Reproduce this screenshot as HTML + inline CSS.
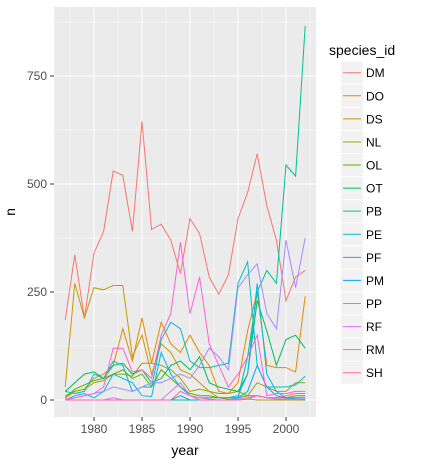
<!DOCTYPE html>
<html><head><meta charset="utf-8"><style>
body{margin:0;background:#fff;font-family:"Liberation Sans",sans-serif}
</style></head><body>
<svg id="chart" width="425" height="465" xmlns="http://www.w3.org/2000/svg" font-family="Liberation Sans, sans-serif">
<rect width="425" height="465" fill="#fff"/>
<rect x="54" y="7" width="262" height="410" fill="#ebebeb"/>
<g id="grid"></g><g id="lines"></g><g id="axes"></g><g id="legend"></g>
<text x="185" y="455" font-size="14" text-anchor="middle" fill="#000">year</text>
<text transform="translate(15,212) rotate(-90)" font-size="14" text-anchor="middle" fill="#000">n</text>
</svg>
<script>
const years=[1977,1978,1979,1980,1981,1982,1983,1984,1985,1986,1987,1988,1989,1990,1991,1992,1993,1994,1995,1996,1997,1998,1999,2000,2001,2002];
const species=["DM","DO","DS","NL","OL","OT","PB","PE","PF","PM","PP","RF","RM","SH"];
const colors=["#F8766D","#E38900","#C49A00","#99A800","#53B400","#00BC56","#00C094","#00BFC4","#00B6EB","#06A4FF","#A58AFF","#DF70F8","#FB61D7","#FF66A8"];
const DM=[185,336,190,340,390,530,520,390,645,395,407,370,293,420,385,285,245,290,420,480,570,450,370,230,285,300];
const DO=[10,20,25,50,60,80,165,90,190,85,180,130,110,150,110,80,20,15,40,160,250,80,75,75,65,240];
const DS=[30,270,190,260,255,265,265,100,150,60,130,110,70,60,40,20,5,2,0,2,0,0,0,0,0,0];
const NL=[5,20,25,40,45,60,60,55,85,85,80,70,50,20,25,20,15,15,20,10,40,30,20,20,40,40];
const OL=[5,25,35,45,50,60,70,50,60,30,70,50,30,15,10,10,5,5,5,10,10,5,5,5,10,10];
const OT=[20,40,60,65,50,80,85,60,70,40,50,80,90,70,100,40,30,25,20,60,230,160,80,140,150,120];
const PB=[0,0,0,0,0,0,0,0,0,0,0,0,0,0,0,0,0,0,5,100,250,300,270,544,518,866];
const PE=[20,15,20,60,50,90,80,20,30,30,140,180,165,90,75,75,80,85,270,320,80,30,30,30,35,55];
const PF=[0,10,15,5,20,60,50,40,10,8,110,60,30,10,5,5,5,5,10,60,270,60,20,5,3,0];
const PM=[0,0,0,0,0,0,0,0,0,0,0,0,10,0,0,0,0,0,5,20,80,30,10,5,5,5];
const PP=[0,5,10,15,20,30,25,20,30,40,40,50,60,50,80,120,100,70,260,290,315,200,165,370,260,375];
const RF=[0,0,0,0,0,5,0,0,0,0,0,20,40,10,5,2,0,0,2,5,10,5,2,2,2,2];
const RM=[2,5,10,15,30,120,120,65,70,50,150,200,365,200,285,130,80,30,60,100,150,10,15,15,20,20];
const SH=[0,0,0,0,0,0,0,0,0,0,0,0,20,10,0,0,0,0,0,2,10,5,5,10,15,15];
const series=[DM,DO,DS,NL,OL,OT,PB,PE,PF,PM,PP,RF,RM,SH];
const yTicks=[0,250,500,750];
const xTicks=[1980,1985,1990,1995,2000];
const NS="http://www.w3.org/2000/svg";
const X=v=>94+(v-1980)*9.6;
const Y=v=>400-v*0.432;
function mk(tag,attrs,parent){const e=document.createElementNS(NS,tag);for(const k in attrs)e.setAttribute(k,attrs[k]);parent.appendChild(e);return e;}
const grid=document.getElementById('grid'),lines=document.getElementById('lines'),axes=document.getElementById('axes'),legend=document.getElementById('legend');
// minor grid
for(let i=0;i<yTicks.length+1;i++){const v=(i-0.5)*250;const y=Y(v);if(y>7&&y<417){const l=mk('line',{x1:54,x2:316,y1:y,y2:y,stroke:'#fff','stroke-width':0.5},grid);

}}
for(let i=0;i<xTicks.length+1;i++){const v=1977.5+i*5;const x=X(v);const l=mk('line',{x1:x,x2:x,y1:7,y2:417,stroke:'#fff','stroke-width':0.5},grid);

}
yTicks.forEach(v=>{const y=Y(v);const l=mk('line',{x1:54,x2:316,y1:y,y2:y,stroke:'#fff','stroke-width':1},grid);


mk('line',{x1:50,x2:54,y1:y,y2:y,stroke:'#333'},axes);
const t=mk('text',{x:47,y:y+4,'font-size':12,'text-anchor':'end',fill:'#4d4d4d'},axes);t.textContent=v;

});
xTicks.forEach(v=>{const x=X(v);const l=mk('line',{x1:x,x2:x,y1:7,y2:417,stroke:'#fff','stroke-width':1},grid);


mk('line',{x1:x,x2:x,y1:417,y2:421,stroke:'#333'},axes);
const t=mk('text',{x:x,y:433,'font-size':12,'text-anchor':'middle',fill:'#4d4d4d'},axes);t.textContent=v;

});
series.forEach((s,i)=>{const d=s.map((v,j)=>(j?'L':'M')+X(years[j]).toFixed(1)+','+Y(v).toFixed(1)).join('');
const p=mk('path',{d:d,fill:'none',stroke:colors[i],'stroke-width':1},lines);

});
const lt=mk('text',{x:329,y:55,'font-size':14,fill:'#000'},legend);lt.textContent='species_id';


species.forEach((sp,i)=>{const cy=72.7+i*23.08;
const g=mk('g',{},legend);


mk('rect',{x:341,y:cy-11,width:22,height:22,fill:'#f2f2f2'},g);
mk('line',{x1:343,x2:361,y1:cy,y2:cy,stroke:colors[i],'stroke-width':1},g);
const t=mk('text',{x:366,y:cy+4.5,'font-size':12,fill:'#000'},g);t.textContent=sp;});
</script>
</body></html>
